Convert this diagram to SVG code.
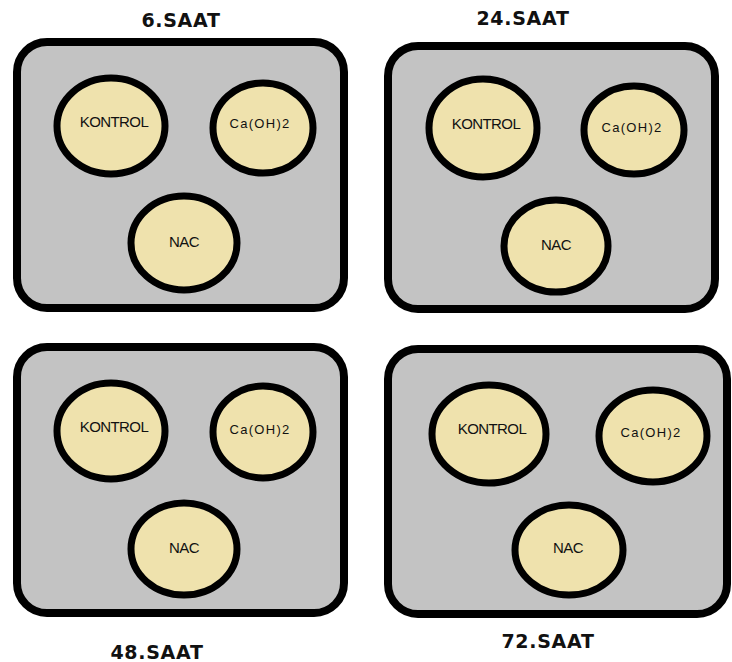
<svg xmlns="http://www.w3.org/2000/svg" width="732" height="662" viewBox="0 0 732 662">
<style>
.panel{fill:#c3c3c3;stroke:#000;stroke-width:8}
.dish{fill:#efe2ad;stroke:#000;stroke-width:7}
.title{font-family:"DejaVu Sans",sans-serif;font-weight:bold;font-size:19px;letter-spacing:0.7px;text-anchor:middle;fill:#111}
.lbl{font-family:"Liberation Sans",Arial,sans-serif;font-size:15px;letter-spacing:-0.6px;text-anchor:middle;fill:#111}
.ca{font-family:"Liberation Sans",Arial,sans-serif;font-size:13px;letter-spacing:1.3px;text-anchor:middle;fill:#111}
</style>
<rect width="732" height="662" fill="#fff"/>
<g id="panel-6">
<rect class="panel" x="17" y="42" width="327" height="266" rx="30"/>
<text class="title" x="181" y="27">6.SAAT</text>
<g id="p6-kontrol"><ellipse class="dish" cx="111" cy="126" rx="54" ry="48"/><text class="lbl" x="114" y="127">KONTROL</text></g>
<g id="p6-ca"><ellipse class="dish" cx="263" cy="128" rx="50" ry="45"/><text class="ca" x="260" y="128">Ca(OH)2</text></g>
<g id="p6-nac"><ellipse class="dish" cx="184" cy="243" rx="53" ry="47"/><text class="lbl" x="184" y="247">NAC</text></g>
</g>
<g id="panel-24">
<rect class="panel" x="388" y="46" width="327" height="263" rx="30"/>
<text class="title" x="523" y="25">24.SAAT</text>
<g id="p24-kontrol"><ellipse class="dish" cx="483" cy="128" rx="54" ry="49"/><text class="lbl" x="486" y="129">KONTROL</text></g>
<g id="p24-ca"><ellipse class="dish" cx="634" cy="130" rx="50" ry="44"/><text class="ca" x="632" y="132">Ca(OH)2</text></g>
<g id="p24-nac"><ellipse class="dish" cx="556" cy="246" rx="52" ry="46"/><text class="lbl" x="556" y="250">NAC</text></g>
</g>
<g id="panel-48">
<rect class="panel" x="17" y="347" width="327" height="266" rx="30"/>
<text class="title" x="157" y="659">48.SAAT</text>
<g id="p48-kontrol"><ellipse class="dish" cx="111" cy="431" rx="54" ry="48"/><text class="lbl" x="114" y="432">KONTROL</text></g>
<g id="p48-ca"><ellipse class="dish" cx="263" cy="432" rx="50" ry="46"/><text class="ca" x="260" y="434">Ca(OH)2</text></g>
<g id="p48-nac"><ellipse class="dish" cx="184" cy="549" rx="53" ry="46"/><text class="lbl" x="184" y="553">NAC</text></g>
</g>
<g id="panel-72">
<rect class="panel" x="388" y="349" width="339" height="265" rx="30"/>
<text class="title" x="548" y="648">72.SAAT</text>
<g id="p72-kontrol"><ellipse class="dish" cx="489" cy="434" rx="57" ry="49"/><text class="lbl" x="492" y="434">KONTROL</text></g>
<g id="p72-ca"><ellipse class="dish" cx="653" cy="436" rx="54" ry="46"/><text class="ca" x="651" y="437">Ca(OH)2</text></g>
<g id="p72-nac"><ellipse class="dish" cx="569" cy="550" rx="54" ry="45"/><text class="lbl" x="568" y="553">NAC</text></g>
</g>
<g id="connectors"></g>
</svg>
